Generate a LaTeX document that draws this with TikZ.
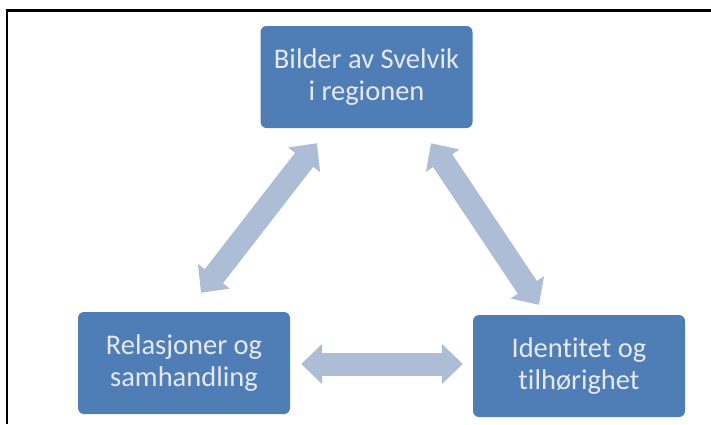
\documentclass[tikz,border=0pt]{standalone}
\usepackage{fontspec}
\setmainfont{Carlito}[Ligatures=NoCommon]
\usepackage{xcolor}
\usepackage{tikz}
\usetikzlibrary{arrows.meta}

\definecolor{boxblue}{HTML}{4F7DB6}
\definecolor{arrowblue}{HTML}{ADBDD6}
\definecolor{boxtext}{HTML}{E6EAF0}

\begin{document}
\begin{tikzpicture}[x=1pt, y=-1pt,
  theme/.style={rectangle, rounded corners=6pt, fill=boxblue, text=boxtext, align=center, minimum width=212pt, minimum height=102pt, inner sep=0pt, font=\fontsize{28.5}{31.5}\selectfont},
  link/.style={draw=arrowblue, line width=23pt, {Triangle[length=21pt,width=39pt]}-{Triangle[length=21pt,width=39pt]}}
]
\useasboundingbox (0,0) rectangle (711,424);

% Frame
\draw[line width=2.2pt] (7,424) -- (7,10.5) -- (711,10.5);

% Theme boxes
\node[theme] (bilder) at (366.5,77) {Bilder av Svelvik\\i regionen};
\node[theme] (rel) at (184,363) {Relasjoner og\\samhandling};
\node[theme] (ident) at (579,366) {Identitet og\\tilhørighet};

% Connect theme boxes
\draw[link] ([shift={(17,-19)}]rel.north) -- ([shift={(-49.5,15)}]bilder.south);
\draw[link] ([shift={(64.5,15)}]bilder.south) -- ([shift={(-40,-10)}]ident.north);
\draw[link] ([shift={(11,1)}]rel.east) -- ([shift={(-10,-2)}]ident.west);

\end{tikzpicture}
\end{document}
